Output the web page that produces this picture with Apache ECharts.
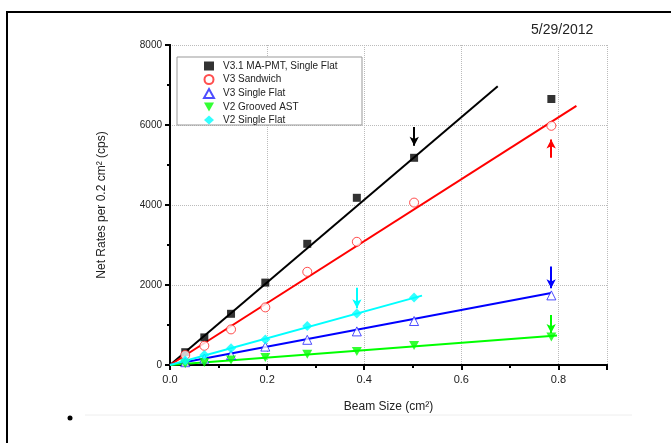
<!DOCTYPE html>
<html>
<head>
<meta charset="utf-8">
<script src="https://cdn.jsdelivr.net/npm/echarts@6/dist/echarts.min.js"></script>
<style>
  html, body { margin: 0; padding: 0; background: #fff; }
  #chart { width: 671px; height: 443px; }
</style>
</head>
<body>
<div id="chart"></div>
<script>
// beam sizes (cm^2)
var beamSize = [0.0314, 0.0707, 0.1257, 0.1963, 0.2827, 0.3848, 0.5027, 0.7854];

var v31MaPmt   = [320, 690, 1280, 2060, 3030, 4180, 5180, 6650];
var v3Sandwich = [250, 480, 890, 1440, 2330, 3080, 4060, 5980];
var v3Single   = [70, 160, 250, 460, 630, 840, 1100, 1740];
var v2Grooved  = [30, 60, 125, 185, 270, 335, 485, 700];
var v2Single   = [110, 250, 420, 640, 975, 1290, 1690, null];

// fit lines: [x, y] end points
var fitBlack = [[0, 0], [0.675, 6970]];
var fitRed   = [[0, 0], [0.837, 6480]];
var fitBlue  = [[0, 0], [0.785, 1800]];
var fitGreen = [[0, 0], [0.797, 735]];
var fitCyan  = [[0, 0], [0.519, 1735]];

// arrows: x, yFrom, yTo
var arrBlack = [0.503, 5950, 5480];
var arrRed   = [0.785, 5180, 5640];
var arrBlue  = [0.785, 2460, 1920];
var arrCyan  = [0.385, 1930, 1420];
var arrGreen = [0.785, 1250, 800];

var names = ['V3.1 MA-PMT, Single Flat', 'V3 Sandwich', 'V3 Single Flat', 'V2 Grooved AST', 'V2 Single Flat'];

var downTri = 'path://M0,0 L10,0 L5,9 Z';

function pts(ys) {
  var out = [];
  for (var i = 0; i < beamSize.length; i++) {
    if (ys[i] != null) out.push([beamSize[i], ys[i]]);
  }
  return out;
}

function fit(d, color, arr) {
  return {
    type: 'line', data: d, symbol: 'none', silent: true, z: 2,
    lineStyle: { color: color, width: 2 },
    markLine: {
      silent: true, symbol: ['none', 'arrow'], symbolSize: [7, 9],
      label: { show: false },
      lineStyle: { color: color, width: 2, type: 'solid' },
      data: [[{ coord: [arr[0], arr[1]] }, { coord: [arr[0], arr[2]] }]]
    }
  };
}

var chart = echarts.init(document.getElementById('chart'));

var axisFont = { fontFamily: 'Liberation Sans, Arial, sans-serif', color: '#222', fontSize: 11 };

chart.setOption({
  backgroundColor: '#fff',
  animation: false,
  textStyle: { fontFamily: 'Liberation Sans, Arial, sans-serif' },
  grid: { left: 170, right: 64, top: 45, bottom: 78 },
  legend: {
    data: names,
    orient: 'vertical',
    left: 203, top: 61,
    itemWidth: 10, itemHeight: 9, itemGap: 3,
    padding: 0,
    textStyle: { fontSize: 10, color: '#222', padding: [0, 0, 0, 4] }
  },
  xAxis: [{
    type: 'value', min: 0, max: 0.9, interval: 0.2,
    name: 'Beam Size (cm²)', nameLocation: 'middle', nameGap: 36,
    nameTextStyle: { fontSize: 12, color: '#222' },
    axisLine: { lineStyle: { color: '#000', width: 2 } },
    axisTick: { inside: false, length: 5, lineStyle: { color: '#000', width: 2 } },
    minorTick: { show: true, splitNumber: 2, length: 3, lineStyle: { color: '#000', width: 2 } },
    axisLabel: Object.assign({ margin: 9, showMaxLabel: false, formatter: function (v) { return v.toFixed(1); } }, axisFont),
    splitLine: { show: true, lineStyle: { color: '#bbb', type: 'dotted' } }
  }, {
    type: 'value', position: 'top', min: 0, max: 0.9, interval: 0.2,
    axisLine: { lineStyle: { color: '#000', width: 2 } },
    axisTick: { inside: true, length: 5, lineStyle: { color: '#000', width: 2 } },
    minorTick: { show: true, splitNumber: 2, length: 3, lineStyle: { color: '#000', width: 2 } },
    axisLabel: { show: false },
    splitLine: { show: false }
  }],
  yAxis: [{
    type: 'value', min: 0, max: 8000, interval: 2000,
    name: 'Net Rates per 0.2 cm² (cps)', nameLocation: 'middle', nameGap: 62,
    nameTextStyle: { fontSize: 12, color: '#222' },
    axisLine: { lineStyle: { color: '#000', width: 2 } },
    axisTick: { inside: false, length: 5, lineStyle: { color: '#000', width: 2 } },
    minorTick: { show: true, splitNumber: 2, length: 3, lineStyle: { color: '#000', width: 2 } },
    axisLabel: Object.assign({ margin: 8, formatter: function (v) { return String(v); } }, axisFont, { fontSize: 10 }),
    splitLine: { show: true, lineStyle: { color: '#bbb', type: 'dotted' } }
  }, {
    type: 'value', position: 'right', min: 0, max: 8000, interval: 2000,
    axisLine: { lineStyle: { color: '#000', width: 2 } },
    axisTick: { inside: true, length: 5, lineStyle: { color: '#000', width: 2 } },
    minorTick: { show: true, splitNumber: 2, length: 3, lineStyle: { color: '#000', width: 2 } },
    axisLabel: { show: false },
    splitLine: { show: false }
  }],
  graphic: [
    { type: 'polyline', shape: { points: [[7, 443], [7, 12], [671, 12]] }, style: { stroke: '#000', lineWidth: 2, fill: null } },
    { type: 'rect', shape: { x: 177, y: 57, width: 185, height: 68 }, style: { stroke: '#999', lineWidth: 1, fill: '#fff' }, z: 3 },
    { type: 'text', left: 531, top: 23, style: { text: '5/29/2012', fontSize: 14, fill: '#222', fontFamily: 'Liberation Sans, Arial, sans-serif' } },
    { type: 'circle', shape: { cx: 70, cy: 418, r: 2.5 }, style: { fill: '#000' } },
    { type: 'line', shape: { x1: 85, y1: 415, x2: 632, y2: 415 }, style: { stroke: '#eee', lineWidth: 1 } }
  ],
  series: [
    fit(fitBlack, '#000', arrBlack),
    fit(fitRed, '#f00', arrRed),
    fit(fitBlue, '#00f', arrBlue),
    fit(fitGreen, '#0f0', arrGreen),
    fit(fitCyan, '#0ff', arrCyan),
    { name: names[0], type: 'scatter', data: pts(v31MaPmt), symbol: 'rect', symbolSize: 8, z: 5,
      itemStyle: { color: '#000' } },
    { name: names[1], type: 'scatter', data: pts(v3Sandwich), symbol: 'circle', symbolSize: 9, z: 5,
      itemStyle: { color: '#fff', borderColor: '#f22', borderWidth: 1 } },
    { name: names[2], type: 'scatter', data: pts(v3Single), symbol: 'triangle', symbolSize: 9, z: 5,
      itemStyle: { color: '#fff', borderColor: '#22f', borderWidth: 1 } },
    { name: names[3], type: 'scatter', data: pts(v2Grooved), symbol: downTri, symbolSize: [10, 9], z: 5,
      itemStyle: { color: '#0f0' } },
    { name: names[4], type: 'scatter', data: pts(v2Single), symbol: 'diamond', symbolSize: 10, z: 5,
      itemStyle: { color: '#0ff' } }
  ]
});
</script>
</body>
</html>
